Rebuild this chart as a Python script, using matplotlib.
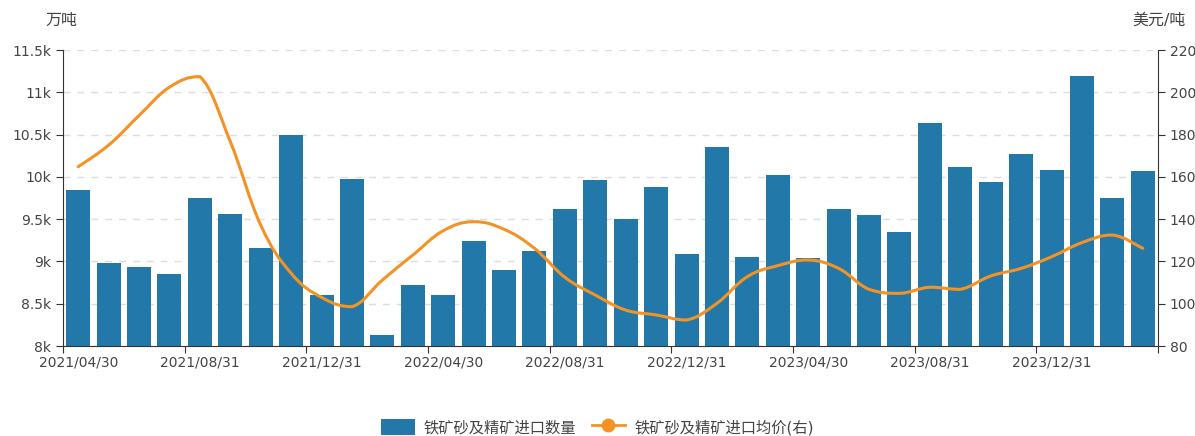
import matplotlib.pyplot as plt
from matplotlib.lines import Line2D
from matplotlib.patches import Patch, PathPatch
from matplotlib.path import Path

plt.rcParams['font.family'] = ['DejaVu Sans', 'Noto Sans CJK SC']

# monthly data, 2021/04 .. 2024/03
months = ['2021/04/30', '2021/05/31', '2021/06/30', '2021/07/31', '2021/08/31', '2021/09/30',
          '2021/10/31', '2021/11/30', '2021/12/31', '2022/01/31', '2022/02/28', '2022/03/31',
          '2022/04/30', '2022/05/31', '2022/06/30', '2022/07/31', '2022/08/31', '2022/09/30',
          '2022/10/31', '2022/11/30', '2022/12/31', '2023/01/31', '2023/02/28', '2023/03/31',
          '2023/04/30', '2023/05/31', '2023/06/30', '2023/07/31', '2023/08/31', '2023/09/30',
          '2023/10/31', '2023/11/30', '2023/12/31', '2024/01/31', '2024/02/29', '2024/03/31']

volume = [9850, 8980, 8940, 8850, 9750, 9560, 9155, 10495, 8603, 9975, 8130, 8720,
          8600, 9245, 8895, 9123, 9616, 9963, 9498, 9880, 9088, 10357, 9056, 10022,
          9040, 9615, 9549, 9344, 10640, 10120, 9935, 10270, 10081, 11189, 9746, 10069]

price = [164.8, 175.0, 189.0, 202.4, 207.4, 176.7, 137.2, 114.4, 103.0, 98.6, 111.2, 123.0,
         134.5, 138.8, 135.2, 126.2, 112.5, 104.1, 97.0, 94.7, 92.3, 100.2, 112.8, 118.0,
         120.7, 116.7, 106.8, 104.9, 107.8, 106.8, 113.1, 116.7, 122.2, 128.9, 132.5, 126.2]

bar_color = '#2278a8'
line_color = '#f39325'
txt_color = '#444444'


def smooth_path(xs, ys, t=0.2):
    # cubic bezier through the points; control points clamped so peaks stay at the data
    verts = [(xs[0], ys[0])]
    codes = [Path.MOVETO]
    n = len(xs)
    for i in range(n - 1):
        p0 = i - 1 if i > 0 else i
        p3 = i + 2 if i + 2 < n else i + 1
        lo, hi = min(ys[i], ys[i + 1]), max(ys[i], ys[i + 1])
        c1y = min(max(ys[i] + t * (ys[i + 1] - ys[p0]), lo), hi)
        c2y = min(max(ys[i + 1] - t * (ys[p3] - ys[i]), lo), hi)
        c1 = (xs[i] + t * (xs[i + 1] - xs[p0]), c1y)
        c2 = (xs[i + 1] - t * (xs[p3] - xs[i]), c2y)
        verts += [c1, c2, (xs[i + 1], ys[i + 1])]
        codes += [Path.CURVE4] * 3
    return Path(verts, codes)


fig = plt.figure(figsize=(11.95, 4.36), dpi=100)
ax = fig.add_axes([63 / 1195, 1 - 346 / 436, (1158 - 63) / 1195, 296 / 436])
ax2 = ax.twinx()

x = list(range(len(months)))
ax.bar(x, [v - 8000 for v in volume], bottom=8000, width=0.79, color=bar_color, zorder=2)
ax2.add_patch(PathPatch(smooth_path(x, price), facecolor='none', edgecolor=line_color,
                        lw=2.2, zorder=3, capstyle='round', joinstyle='round'))

ax.set_xlim(-0.5, len(months) - 0.5)
ax.set_ylim(8000, 11500)
ax2.set_ylim(80, 220)

lt = [8000, 8500, 9000, 9500, 10000, 10500, 11000, 11500]
ax.set_yticks(lt)
ax.set_yticklabels(['8k', '8.5k', '9k', '9.5k', '10k', '10.5k', '11k', '11.5k'])
ax2.set_yticks([80, 100, 120, 140, 160, 180, 200, 220])

# ticks at band edges, labels at bar centres
ax.set_xticks([i - 0.5 for i in range(0, len(months) + 1, 4)])
ax.set_xticklabels([])
ax.set_xticks(list(range(0, len(months), 4)), [months[i] for i in range(0, len(months), 4)], minor=True)
ax.tick_params(axis='x', which='minor', length=0, pad=7, labelsize=10, labelcolor=txt_color)
ax.tick_params(axis='x', which='major', length=5, color='#333333')
ax.tick_params(axis='y', length=5, labelsize=10, labelcolor=txt_color, color='#333333')
ax2.tick_params(axis='y', length=5, labelsize=10, labelcolor=txt_color, color='#333333')

ax.grid(axis='y', linestyle=(0, (5, 5)), color='#dddddd', lw=1, zorder=0)
ax.set_axisbelow(True)
for a in (ax, ax2):
    a.spines['top'].set_visible(False)
    a.spines['left'].set_color('#333333')
    a.spines['right'].set_color('#333333')
    a.spines['bottom'].set_color('#333333')
ax.spines['right'].set_visible(False)
ax2.spines['left'].set_visible(False)
ax2.spines['bottom'].set_visible(False)

fig.text(45 / 1195, 1 - 20 / 436, '万吨', fontsize=11.5, color=txt_color, va='center')
fig.text(1186 / 1195, 1 - 20 / 436, '美元/吨', fontsize=11.5, color=txt_color, va='center', ha='right')

handles = [Patch(facecolor=bar_color, edgecolor='none'),
           Line2D([], [], color=line_color, lw=2, marker='o', markersize=9)]
fig.legend(handles, ['铁矿砂及精矿进口数量', '铁矿砂及精矿进口均价(右)'],
           loc='center', bbox_to_anchor=(0.5, 1 - 427 / 436), ncol=2, frameon=False,
           fontsize=11, handlelength=2.2, handleheight=1.3, columnspacing=1.0,
           handletextpad=0.6, labelcolor=txt_color)

fig.savefig('out.png', dpi=100)
